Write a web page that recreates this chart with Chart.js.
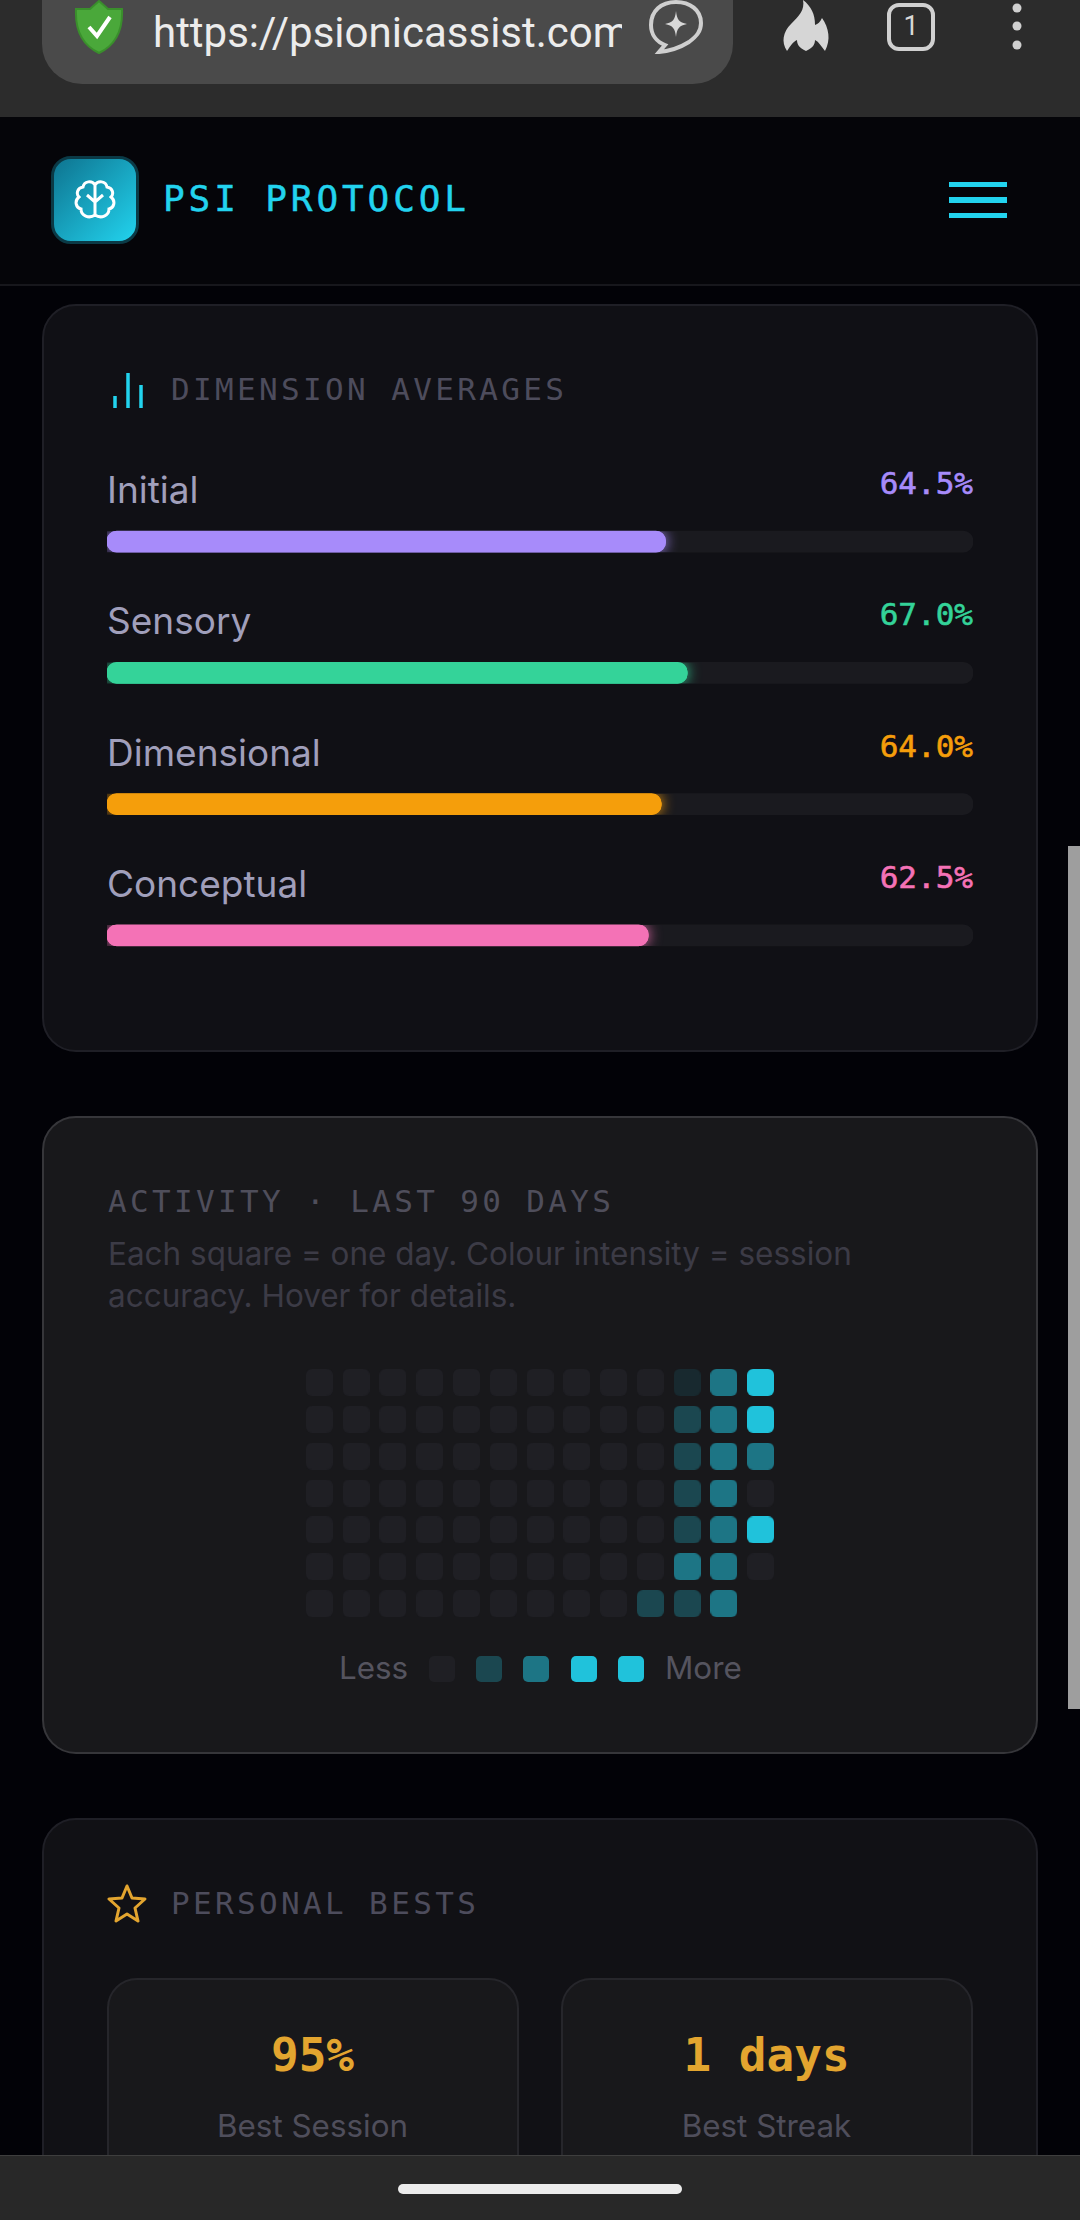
<!DOCTYPE html>
<html>
<head>
<meta charset="utf-8">
<title>Psi Protocol</title>
<script src="https://cdn.jsdelivr.net/npm/chart.js@4/dist/chart.umd.min.js"></script>
<style>
html, body { margin: 0; padding: 0; width: 1080px; height: 2220px; overflow: hidden; background: #020207; font-family: Inter, sans-serif; }
.box, .txt, canvas, svg { position: absolute; display: block; }
.box { box-sizing: border-box; }
.txt { white-space: pre; line-height: 1; }
.mono { font-family: "DejaVu Sans Mono", monospace; }
.card { left: 42px; width: 996px; border-radius: 34px; border: 2px solid #1f1f26; }
.sub { left: 108px; font-size: 31.5px; color: #3c3b46; }
.head { font-size: 31px; letter-spacing: 3.35px; color: #4d4c5c; }
.best-num { font-size: 46px; font-weight: bold; color: #e3a52f; text-align: center; width: 411px; }
.best-lbl { font-size: 31.4px; color: #4f4e5b; text-align: center; width: 411px; }
</style>
</head>
<body>
<!-- browser bar -->
<div class="box" style="left:0;top:0;width:1080px;height:117px;background:#2c2c2c"></div>
<div class="box" style="left:42px;top:-40px;width:691px;height:124px;background:#4a4a4a;border-radius:40px"></div>
<svg style="left:72px;top:0" width="54" height="54" viewBox="0 0 54 54"><path d="M27 1 L36 9 L50 9 C51 30 44 45 27 53 C10 45 3 30 4 9 L18 9 Z" fill="#4aa83a" stroke="#3a8f2c" stroke-width="2"/><path d="M17 27 L25 36 L38 17" fill="none" stroke="#fff" stroke-width="4"/></svg>
<div class="txt" style="left:153px;top:8px;width:469px;height:50px;overflow:hidden;font-family:Roboto,sans-serif;font-size:42px;line-height:50px;color:#ececec">https://psionicassist.com</div>
<svg style="left:648px;top:0" width="56" height="54" viewBox="0 0 56 54"><path d="M28 2 C13 2 3 11 3 25 C3 35 9 42 17 45 L11 52 C22 51 33 47 41 42 C49 36 53 31 53 23 C53 10 42 2 28 2 Z" fill="none" stroke="#cfcfcf" stroke-width="4"/><path d="M28 11 C29 20 31 22 39 24 C31 26 29 28 28 37 C27 28 25 26 17 24 C25 22 27 20 28 11 Z" fill="#d8d8d8"/></svg>
<svg style="left:781px;top:0" width="50" height="52" viewBox="0 0 50 52"><path d="M22 0 C24 10 18 16 10 24 C2 32 0 42 6 51 C10 45 12 42 16 40 C16 44 18 48 25 51 C32 48 34 44 34 40 C38 42 40 46 44 51 C50 40 48 28 41 18 C39 22 37 24 34 25 C34 14 30 6 22 0 Z" fill="#d6d6d6"/></svg>
<svg style="left:886px;top:2" width="50" height="50" viewBox="0 0 50 50"><rect x="3" y="3" width="44" height="44" rx="10" fill="none" stroke="#d0d0d0" stroke-width="4"/></svg>
<div class="txt" style="left:886px;top:13px;width:50px;text-align:center;font-family:Roboto,sans-serif;font-size:27px;color:#d8d8d8">1</div>
<svg style="left:1009px;top:2" width="16" height="50" viewBox="0 0 16 50"><circle cx="8" cy="6" r="4.5" fill="#d0d0d0"/><circle cx="8" cy="24" r="4.5" fill="#d0d0d0"/><circle cx="8" cy="43" r="4.5" fill="#d0d0d0"/></svg>

<!-- site header -->
<div class="box" style="left:0;top:117px;width:1080px;height:169px;background:#050509;border-bottom:2px solid #17171c"></div>
<div class="box" style="left:51px;top:156px;width:88px;height:88px;border-radius:20px;border:3px solid #0b3a46;background:linear-gradient(135deg,#0e7490,#22d3ee)"></div>
<svg style="left:74px;top:180px" width="42" height="40" viewBox="0 0 42 40"><path d="M21 5 C18 0 10 1 9 7 C3 8 2 14 5 17 C0 21 2 28 7 29 C7 36 15 39 21 35 C27 39 35 36 35 29 C40 28 42 21 37 17 C40 14 39 8 33 7 C32 1 24 0 21 5 Z M21 5 L21 35 M13 15 L21 22 L29 15" fill="none" stroke="#fff" stroke-width="3"/></svg>
<div class="txt mono" id="brand" style="left:163px;top:181px;font-size:36px;letter-spacing:3.9px;color:#22d3ee;-webkit-text-stroke:0.5px #22d3ee">PSI PROTOCOL</div>
<div class="box" style="left:949px;top:182px;width:58px;height:5px;background:#22d3ee"></div>
<div class="box" style="left:949px;top:197px;width:58px;height:6px;background:#22d3ee"></div>
<div class="box" style="left:949px;top:213px;width:58px;height:5px;background:#22d3ee"></div>

<!-- dimension averages card -->
<div class="box card" style="top:304px;height:748px;background:#101015"></div>
<svg style="left:112px;top:372px" width="32" height="37" viewBox="0 0 32 37"><path d="M3 36 V24 M16 36 V1 M29 36 V13" stroke="#22d3ee" stroke-width="3.5" fill="none"/></svg>
<div class="txt mono head" style="left:171px;top:374px">DIMENSION AVERAGES</div>
<div id="dimText"></div>
<canvas id="dimChart" width="866" height="525" style="left:107px;top:476px;width:866px;height:525px"></canvas>

<!-- activity card -->
<div class="box card" style="top:1116px;height:638px;background:#18181b;border-color:#36363a"></div>
<div class="txt mono head" style="left:108px;top:1186px;color:#4f4e5b">ACTIVITY · LAST 90 DAYS</div>
<div class="txt sub" style="top:1238px">Each square = one day. Colour intensity = session</div>
<div class="txt sub" style="top:1280px">accuracy. Hover for details.</div>
<canvas id="activityChart" width="478" height="258" style="left:301px;top:1364px;width:478px;height:258px"></canvas>
<div id="legendBox"></div>

<!-- personal bests card -->
<div class="box card" style="top:1818px;height:420px;background:#111115"></div>
<svg style="left:107px;top:1884px" width="40" height="40" viewBox="0 0 40 40"><path d="M20 2 L25 14 L38 15 L28 24 L31 37 L20 30 L9 37 L12 24 L2 15 L15 14 Z" fill="none" stroke="#e3a52f" stroke-width="3" stroke-linejoin="round"/></svg>
<div class="txt mono head" style="left:171px;top:1888px">PERSONAL BESTS</div>
<div class="box" style="left:107px;top:1978px;width:412px;height:240px;border-radius:30px;border:2px solid #26262b;background:#18181b"></div>
<div class="box" style="left:561px;top:1978px;width:412px;height:240px;border-radius:30px;border:2px solid #26262b;background:#18181b"></div>
<div id="bestText"></div>

<!-- nav bar and scrollbar -->
<div class="box" style="left:1068px;top:846px;width:12px;height:863px;background:#9e9e9e"></div>
<div class="box" style="left:0;top:2155px;width:1080px;height:65px;background:#282828;border-top:1px solid #3e3e3e"></div>
<div class="box" style="left:398px;top:2184px;width:284px;height:10px;border-radius:5px;background:#ececec"></div>

<script>
const dimLabels = ['Initial', 'Sensory', 'Dimensional', 'Conceptual'];
const dimValues = [64.5, 67.0, 64.0, 62.5];
const dimTrack = [100, 100, 100, 100];
const dimColors = ['#a78bfa', '#34d399', '#f59e0b', '#f472b6'];

// activity levels per row, columns left to right, null = no cell yet
const activityRow0 = [0, 0, 0, 0, 0, 0, 0, 0, 0, 0, 1, 3, 4];
const activityRow1 = [0, 0, 0, 0, 0, 0, 0, 0, 0, 0, 2, 3, 4];
const activityRow2 = [0, 0, 0, 0, 0, 0, 0, 0, 0, 0, 2, 3, 3];
const activityRow3 = [0, 0, 0, 0, 0, 0, 0, 0, 0, 0, 2, 3, 0];
const activityRow4 = [0, 0, 0, 0, 0, 0, 0, 0, 0, 0, 2, 3, 4];
const activityRow5 = [0, 0, 0, 0, 0, 0, 0, 0, 0, 0, 3, 3, 0];
const activityRow6 = [0, 0, 0, 0, 0, 0, 0, 0, 0, 2, 2, 3, null];
const activityRows = [activityRow0, activityRow1, activityRow2, activityRow3, activityRow4, activityRow5, activityRow6];
const levelColors = ['#1f1f24', '#18292f', '#1b4750', '#1d7585', '#20c2db'];
const legendLevels = [0, 2, 3, 4, 4];

const bestValues = ['95%', '1 days'];
const bestLabels = ['Best Session', 'Best Streak'];

function addText(parent, text, css, cls) {
    const el = document.createElement('div');
    el.className = 'txt ' + (cls || '');
    el.style.cssText = css;
    el.textContent = text;
    parent.appendChild(el);
}

const dimText = document.getElementById('dimText');
dimLabels.forEach((name, i) => {
    const y = 476 + i * 131.33;
    addText(dimText, name, `left:107px;top:${Math.round(y - 5)}px;font-size:37px;color:#a09fbb`);
    addText(dimText, dimValues[i].toFixed(1) + '%', `right:107px;top:${Math.round(y - 8)}px;font-size:31px;color:${dimColors[i]};-webkit-text-stroke:0.6px ${dimColors[i]}`, 'mono');
});

const bestText = document.getElementById('bestText');
bestValues.forEach((val, i) => {
    const left = i === 0 ? 107 : 561;
    addText(bestText, val, `left:${left}px;top:2032px;color:#e3a52f`, 'mono best-num');
    addText(bestText, bestLabels[i], `left:${left}px;top:2111px`, 'best-lbl');
});

const legendBox = document.getElementById('legendBox');
addText(legendBox, 'Less', 'left:339px;top:1653px;font-size:31.4px;color:#55545f');
addText(legendBox, 'More', 'left:665px;top:1653px;font-size:31.4px;color:#55545f');
legendLevels.forEach((lvl, i) => {
    const sq = document.createElement('div');
    sq.className = 'box';
    sq.style.cssText = `left:${Math.round(429 + i * 47.2)}px;top:1656px;width:26px;height:26px;border-radius:5px;background:${levelColors[lvl]}`;
    legendBox.appendChild(sq);
});

// glow at the end of each filled bar, cut off at the track edge
const barGlow = {
    id: 'barGlow',
    beforeDatasetDraw(chart, args) {
        if (args.index !== 0) return;
        const ctx = chart.ctx;
        const area = chart.chartArea;
        args.meta.data.forEach((bar, i) => {
            ctx.save();
            ctx.beginPath();
            ctx.rect(area.left, bar.y - 10.5, area.right - area.left, 21);
            ctx.clip();
            ctx.shadowColor = dimColors[i];
            ctx.shadowBlur = 14;
            bar.draw(ctx);
            ctx.restore();
        });
    }
};

new Chart(document.getElementById('dimChart'), {
    type: 'bar',
    data: {
        labels: dimLabels,
        datasets: [
            { data: dimValues, backgroundColor: dimColors, grouped: false, barThickness: 21, borderRadius: 10, borderSkipped: false },
            { data: dimTrack, backgroundColor: '#1a1a1f', grouped: false, barThickness: 21, borderRadius: 10, borderSkipped: false }
        ]
    },
    options: {
        indexAxis: 'y',
        responsive: false,
        animation: false,
        plugins: { legend: { display: false }, tooltip: { enabled: false } },
        scales: {
            x: { display: false, min: 0, max: 100 },
            y: { display: false }
        }
    },
    plugins: [barGlow]
});

// rounded cell sprites, chart.js rectRounded corners are too round here
function cellSprite(color) {
    const c = document.createElement('canvas');
    c.width = 27;
    c.height = 27;
    const g = c.getContext('2d');
    g.fillStyle = color;
    g.beginPath();
    g.roundRect(0, 0, 27, 27, 6);
    g.fill();
    return c;
}
const sprites = levelColors.map(cellSprite);

const activityPoints = [];
const activitySprites = [];
activityRows.forEach((row, r) => {
    row.forEach((lvl, c) => {
        if (lvl === null) return;
        activityPoints.push({ x: c, y: r });
        activitySprites.push(sprites[lvl]);
    });
});

new Chart(document.getElementById('activityChart'), {
    type: 'scatter',
    data: {
        datasets: [{
            data: activityPoints,
            pointStyle: activitySprites,
            pointRadius: 13,
            pointHoverRadius: 13
        }]
    },
    options: {
        responsive: false,
        animation: false,
        layout: { autoPadding: false },
        plugins: { legend: { display: false }, tooltip: { enabled: false } },
        scales: {
            x: { display: false, min: -0.5, max: 12.5 },
            y: { display: false, min: -0.5, max: 6.5, reverse: true }
        }
    }
});
</script>
</body>
</html>
